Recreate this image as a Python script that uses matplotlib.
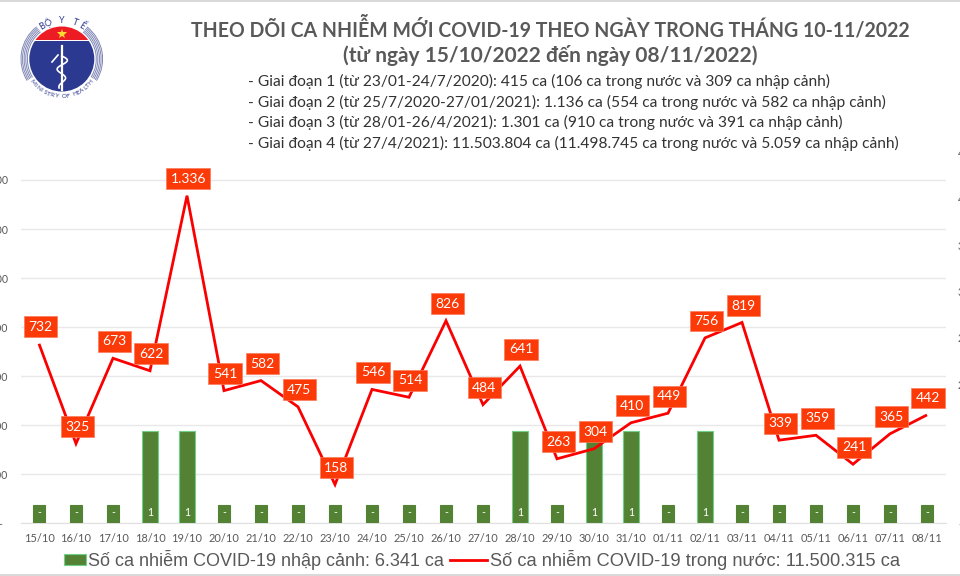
"""
Daily new COVID-19 cases in Vietnam, 15/10/2022 - 08/11/2022
Bars: imported cases (right axis), line: domestic cases (left axis)
"""

import numpy as np
import matplotlib
matplotlib.use('Agg')
import matplotlib.pyplot as plt
from matplotlib.patches import Circle, Rectangle, Arc

days = ['15/10', '16/10', '17/10', '18/10', '19/10', '20/10', '21/10', '22/10', '23/10',
        '24/10', '25/10', '26/10', '27/10', '28/10', '29/10', '30/10', '31/10', '01/11',
        '02/11', '03/11', '04/11', '05/11', '06/11', '07/11', '08/11']
domestic = [732, 325, 673, 622, 1336, 541, 582, 475, 158, 546, 514, 826, 484,
            641, 263, 304, 410, 449, 756, 819, 339, 359, 241, 365, 442]
# Days without imported cases still get a short bar in the original
imported = [0.2, 0.2, 0.2, 1, 1, 0.2, 0.2, 0.2, 0.2, 0.2, 0.2, 0.2, 0.2,
            1, 0.2, 1, 1, 0.2, 1, 0.2, 0.2, 0.2, 0.2, 0.2, 0.2]
imported_labels = ['-', '-', '-', '1', '1', '-', '-', '-', '-', '-', '-', '-', '-',
                   '1', '-', '1', '1', '-', '1', '-', '-', '-', '-', '-', '-']
left_ticks = [0, 200, 400, 600, 800, 1000, 1200, 1400]
left_labels = ['-  ', '200', '400', '600', '800', '1.000', '1.200', '1.400']
right_ticks = [0, 0.5, 1, 1.5, 2, 2.5, 3, 3.5, 4]
right_labels = ['-', '1', '1', '2', '2', '3', '3', '4', '4']

title_lines = ['THEO DÕI CA NHIỄM MỚI COVID-19 THEO NGÀY TRONG THÁNG 10-11/2022',
               '(từ ngày 15/10/2022 đến ngày 08/11/2022)']
period_lines = ['- Giai đoạn 1 (từ 23/01-24/7/2020): 415 ca (106 ca trong nước và 309 ca nhập cảnh)',
                '- Giai đoạn 2 (từ 25/7/2020-27/01/2021): 1.136 ca (554 ca trong nước và 582 ca nhập cảnh)',
                '- Giai đoạn 3 (từ 28/01-26/4/2021): 1.301 ca (910 ca trong nước và 391 ca nhập cảnh)',
                '- Giai đoạn 4 (từ 27/4/2021): 11.503.804 ca (11.498.745 ca trong nước và 5.059 ca nhập cảnh)']
legend_bar = 'Số ca nhiễm COVID-19 nhập cảnh: 6.341 ca'
legend_line = 'Số ca nhiễm COVID-19 trong nước: 11.500.315 ca'

W, H = 960, 576
FONT = ['Lato', 'Open Sans', 'DejaVu Sans']
plt.rcParams['font.family'] = FONT

fig = plt.figure(figsize=(W / 100, H / 100), dpi=100)

# Plot area in pixels, top of the area is the 4 tick of the right axis
px_left, px_right, px_base, px_top = 20.5, 945.5, 523.3, 152.6
rect = [px_left / W, 1 - px_base / H, (px_right - px_left) / W, (px_base - px_top) / H]
left_max = 1400 * (px_base - px_top) / (px_base - 180)
x = np.arange(len(days))

# Grid and left axis
ax = fig.add_axes(rect)
ax.set_xlim(-0.5, len(days) - 0.5)
ax.set_ylim(0, left_max)
ax.set_yticks(left_ticks)
ax.set_yticklabels(left_labels, fontsize=7.6, color='#595959')
ax.set_xticks(x)
ax.set_xticklabels(days, fontsize=7.9, color='#595959')
ax.tick_params(axis='y', length=0, pad=9)
ax.tick_params(axis='x', length=0, pad=6.8)
ax.grid(axis='y', color='#e8e8e8', linewidth=1)
ax.set_axisbelow(True)
for s in ['top', 'left', 'right']:
    ax.spines[s].set_visible(False)
ax.spines['bottom'].set_color('#e0e0e0')

# Imported cases, right axis
ax_bar = ax.twinx()
ax_bar.set_ylim(0, 4)
ax_bar.set_yticks(right_ticks)
ax_bar.set_yticklabels(right_labels, fontsize=7.6, color='#595959', ha='left')
ax_bar.tick_params(axis='y', length=0, pad=9)
for s in ax_bar.spines.values():
    s.set_visible(False)
ax_bar.patch.set_visible(False)
for xi, v, lab in zip(x, imported, imported_labels):
    big = v >= 1
    ax_bar.bar(xi, v, width=0.42 if big else 0.33, color='#548235',
               edgecolor='#70d088' if big else '#548235', linewidth=0.8)
    ax_bar.annotate(lab, (xi, 0), xytext=(0, 7.8), textcoords='offset points', ha='center',
                    va='center', color='white', fontsize=7.6)

# Domestic cases, left scale, on top of the bars
ax_line = ax.twinx()
ax_line.set_ylim(0, left_max)
ax_line.set_yticks([])
ax_line.patch.set_visible(False)
for s in ax_line.spines.values():
    s.set_visible(False)
ax_line.plot(x, domestic, color='#fb0000', linewidth=2, solid_joinstyle='miter',
             solid_capstyle='butt')
for xi, v in zip(x, domestic):
    label = f'{v:,}'.replace(',', '.')
    ax_line.annotate(label, (xi, v), xytext=(0.8, 12.2), textcoords='offset points',
                     ha='center', va='center', color='white', fontsize=10,
                     bbox=dict(boxstyle='square,pad=0.32', fc='#fb3a08', ec='#fb7a5a', lw=0.5))

# Page overlay in pixel coordinates
page = fig.add_axes([0, 0, 1, 1], zorder=-1)
page.set_xlim(0, W)
page.set_ylim(H, 0)
page.axis('off')
page.axhline(0.8, color='#d9d9d9', linewidth=1.5)
page.axhline(574.8, color='#d9d9d9', linewidth=1.5)

page.text(550, 29, title_lines[0], ha='center', va='center', fontsize=14.05,
          fontweight='bold', color='#595959')
page.text(550, 55.5, title_lines[1], ha='center', va='center', fontsize=15.05,
          fontweight='bold', color='#595959')
for y, line in zip([81, 102, 122, 143], period_lines):
    page.text(248, y, line, ha='left', va='center', fontsize=11.2, color='#333333')

# Legend, two separate groups because the keys have different widths
leg_bar = page.legend([Rectangle((0, 0), 1, 1, fc='#548235', ec='#70d088', lw=0.8)], [legend_bar],
                      loc='center left', bbox_to_anchor=(64 / W, 1 - 560 / H), frameon=False,
                      labelcolor='#595959', handlelength=1.2, handleheight=0.6, handletextpad=0.15,
                      borderpad=0, borderaxespad=0, prop=dict(family='Liberation Sans', size=13))
page.add_artist(leg_bar)
page.legend([plt.Line2D([0], [0], color='#fb0000', linewidth=2)], [legend_line],
            loc='center left', bbox_to_anchor=(450 / W, 1 - 560 / H), frameon=False,
            labelcolor='#595959', handlelength=2.05, handletextpad=0.15,
            borderpad=0, borderaxespad=0, prop=dict(family='Liberation Sans', size=13.15))

# Ministry of Health logo
cx, cy, r = 61.8, 59, 32.5
blue = Circle((cx, cy), r, fc='#2b3990', ec='none')
page.add_patch(blue)
blue.set_clip_path(Rectangle((0, 41), 200, 100, transform=page.transData))
red = Circle((cx, cy), r, fc='#ed1c24', ec='none')
page.add_patch(red)
red.set_clip_path(Rectangle((0, 0), 200, 39.8, transform=page.transData))
for rr in [34.5, 36.1, 37.7, 39.3, 40.8]:
    page.add_patch(Arc((cx, cy), 2 * rr, 2 * rr, theta1=148, theta2=232, color='#7f86b5', lw=0.7))
    page.add_patch(Arc((cx, cy), 2 * rr, 2 * rr, theta1=-52, theta2=32, color='#7f86b5', lw=0.7))
page.plot([cx], [33.5], marker='*', color='#fdd835', markersize=7, markeredgewidth=0)
page.plot([cx, cx], [46, 90], color='white', linewidth=1.6)
snake_y = np.linspace(56, 88, 60)
snake_x = cx + 6 * np.sin((snake_y - 56) / 32 * 3.6 * np.pi) * (1 - (snake_y - 56) / 60)
page.plot(snake_x, snake_y, color='white', linewidth=1.2)
page.plot([52, 58], [62, 55], color='white', linewidth=1.2)


def arc_text(text, radius, start, step, size, bottom=False):
    # one character at a time around the badge
    for i, ch in enumerate(text):
        a = start + i * step
        px = cx + radius * np.sin(np.radians(a))
        py = cy - radius * np.cos(np.radians(a))
        rot = 180 - a if bottom else -a
        page.text(px, py, ch, ha='center', va='center', rotation=rot, fontsize=size,
                  color='#2b3990', rotation_mode='anchor')


arc_text('BỘ Y TẾ', 38.5, -31, 10.4, 6.5)
arc_text('MINISTRY OF HEALTH', 37.5, 231, -6, 4.6, bottom=True)

fig.savefig('out.png', dpi=100)
